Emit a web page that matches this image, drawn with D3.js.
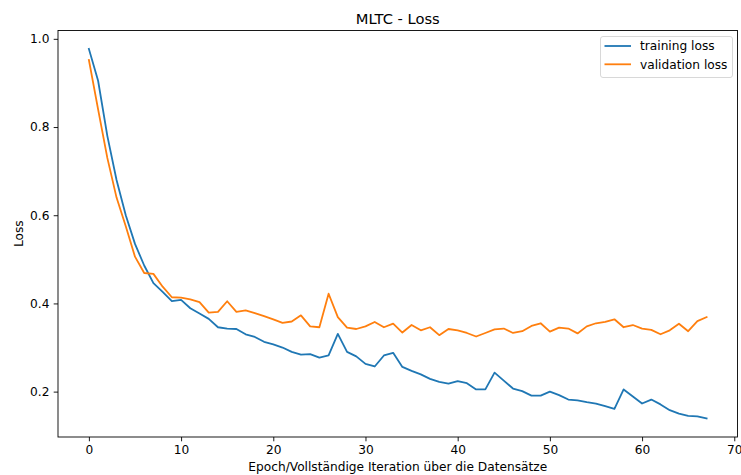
<html>
  <head>
    <title>MLTC - Loss</title>
    <script src="https://d3js.org/d3.v7.min.js"></script>
    <style>
      body { margin: 0; background: #fff; }
      text { font-family: "DejaVu Sans", sans-serif; fill: #000; }
    </style>
  </head>
  <body>
    <div id="d3"></div>
    <script>
      // values
      const epochs = d3.range(68)
      const trainingLoss = [
        0.977, 0.905, 0.780, 0.680, 0.600, 0.535, 0.486, 0.446, 0.426, 0.405,
        0.408, 0.389, 0.377, 0.365, 0.346, 0.343, 0.342, 0.330, 0.324, 0.313,
        0.307, 0.300, 0.290, 0.284, 0.285, 0.277, 0.282, 0.331, 0.290, 0.280,
        0.263, 0.257, 0.282, 0.288, 0.256, 0.247, 0.239, 0.229, 0.222, 0.218,
        0.224, 0.219, 0.205, 0.205, 0.243, 0.225, 0.207, 0.201, 0.191, 0.191,
        0.200, 0.192, 0.182, 0.180, 0.176, 0.173, 0.167, 0.161, 0.205, 0.189,
        0.173, 0.182, 0.171, 0.158, 0.150, 0.145, 0.144, 0.139
      ]
      const validationLoss = [
        0.952, 0.840, 0.730, 0.640, 0.575, 0.506, 0.469, 0.467, 0.438, 0.414,
        0.413, 0.409, 0.403, 0.379, 0.381, 0.405, 0.381, 0.384, 0.378, 0.371,
        0.364, 0.356, 0.359, 0.373, 0.348, 0.346, 0.422, 0.369, 0.345, 0.342,
        0.348, 0.358, 0.346, 0.354, 0.334, 0.351, 0.339, 0.346, 0.328, 0.342,
        0.339, 0.333, 0.325, 0.333, 0.341, 0.343, 0.333, 0.337, 0.349, 0.355,
        0.336, 0.345, 0.343, 0.332, 0.348, 0.355, 0.358, 0.364, 0.346, 0.351,
        0.343, 0.340, 0.330, 0.339, 0.354, 0.337, 0.360, 0.369
      ]
      const xTicks = [0, 10, 20, 30, 40, 50, 60, 70]
      const yTicks = [0.2, 0.4, 0.6, 0.8, 1.0]
      const seriesNames = ["training loss", "validation loss"]
      const colors = ["#1f77b4", "#ff7f0e"]

      let data = {
        fullWidth: 741,
        fullHeight: 475,
        fontSize: 12.2,
        margin: { left: 58, right: 3.5, top: 30.5, bottom: 38 }
      }
      data.width = data.fullWidth - data.margin.left - data.margin.right
      data.height = data.fullHeight - data.margin.top - data.margin.bottom

      let svg = d3.select("#d3")
        .append("svg")
        .attr("width", data.fullWidth)
        .attr("height", data.fullHeight)

      let g = svg.append("g")
        .attr("transform", `translate(${data.margin.left},${data.margin.top})`)

      // matplotlib style 5% margins
      let allVals = trainingLoss.concat(validationLoss)
      let yMin = d3.min(allVals), yMax = d3.max(allVals)
      let yPad = (yMax - yMin) * 0.05
      let xPad = (epochs.length - 1) * 0.05

      let x = d3.scaleLinear()
        .domain([-xPad, epochs.length - 1 + xPad])
        .range([0, data.width])
      let y = d3.scaleLinear()
        .domain([yMin - yPad, yMax + yPad])
        .range([data.height, 0])

      let xAxis = g.append("g")
        .attr("transform", `translate(0,${data.height})`)
        .call(d3.axisBottom(x).tickValues(xTicks).tickSize(4.3).tickPadding(4).tickFormat(d3.format("d")))
      let yAxis = g.append("g")
        .call(d3.axisLeft(y).tickValues(yTicks).tickSize(4.3).tickPadding(4.3).tickFormat(d3.format(".1f")))

      for (let ax of [xAxis, yAxis]) {
        ax.select(".domain").remove()
        ax.selectAll("line").attr("stroke", "#000").attr("stroke-width", 0.9)
        ax.selectAll("text").attr("font-size", data.fontSize).attr("font-family", "DejaVu Sans").attr("fill", "#000")
      }

      let line = d3.line()
        .x((d, i) => x(epochs[i]))
        .y(d => y(d))

      g.selectAll(".series")
        .data([trainingLoss, validationLoss])
        .enter()
        .append("path")
        .attr("class", "series")
        .attr("fill", "none")
        .attr("stroke", (d, i) => colors[i])
        .attr("stroke-width", 1.8)
        .attr("stroke-linejoin", "round")
        .attr("stroke-linecap", "square")
        .attr("d", line)

      // frame
      g.append("rect")
        .attr("width", data.width)
        .attr("height", data.height)
        .attr("fill", "none")
        .attr("stroke", "#000")
        .attr("stroke-width", 0.9)

      // title and labels
      svg.append("text")
        .attr("x", data.margin.left + data.width / 2)
        .attr("y", 23.5)
        .attr("text-anchor", "middle")
        .attr("font-size", 14.7)
        .text("MLTC - Loss")

      svg.append("text")
        .attr("x", data.margin.left + data.width / 2)
        .attr("y", 471)
        .attr("text-anchor", "middle")
        .attr("font-size", data.fontSize)
        .text("Epoch/Vollständige Iteration über die Datensätze")

      svg.append("text")
        .attr("transform", `translate(22.5,${data.margin.top + data.height / 2}) rotate(-90)`)
        .attr("text-anchor", "middle")
        .attr("font-size", data.fontSize)
        .text("Loss")

      // legend
      let legend = svg.append("g").attr("transform", "translate(600.5,36.5)")
      legend.append("rect")
        .attr("width", 132)
        .attr("height", 41)
        .attr("rx", 2.5)
        .attr("fill", "#fff")
        .attr("fill-opacity", 0.8)
        .attr("stroke", "#d4d4d4")
        .attr("stroke-width", 0.9)

      let items = legend.selectAll(".item")
        .data(seriesNames)
        .enter()
        .append("g")
        .attr("class", "item")
        .attr("transform", (d, i) => `translate(0,${9.5 + i * 18.3})`)
      items.append("line")
        .attr("x1", 4)
        .attr("x2", 30.5)
        .attr("stroke", (d, i) => colors[i])
        .attr("stroke-width", 1.8)
      items.append("text")
        .attr("x", 39.5)
        .attr("y", 4.3)
        .attr("font-size", data.fontSize)
        .text(d => d)
    </script>
  </body>
</html>
